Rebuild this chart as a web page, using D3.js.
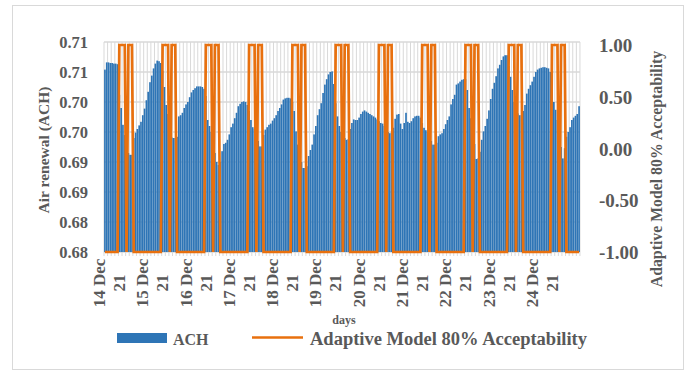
<!DOCTYPE html>
<html>
<head>
<meta charset="utf-8">
<script src="https://cdn.jsdelivr.net/npm/d3@7"></script>
<style>
  body { margin: 0; background: #fff; }
  text { font-family: "Liberation Serif", "Times New Roman", serif; font-weight: bold; fill: #595959; }
</style>
</head>
<body>
<script>
// days shown on the axis, the second label line is the year
var days = ["14 Dec", "15 Dec", "16 Dec", "17 Dec", "18 Dec", "19 Dec", "20 Dec", "21 Dec", "22 Dec", "23 Dec", "24 Dec"];
var yearLabel = "21";
var hoursPerDay = 24;

// hourly air renewal (ACH), one row per day
var ach = [
  0.7104, 0.7116, 0.7116, 0.7115, 0.7115, 0.7114, 0.7114, 0.7113, 0.7062, 0.7040, 0.7012, 0.6995, 0.6978, 0.6965, 0.6962, 0.6962, 0.6990, 0.6999, 0.7005, 0.7011, 0.7017, 0.7028, 0.7039, 0.7053,
  0.7067, 0.7083, 0.7094, 0.7106, 0.7114, 0.7119, 0.7118, 0.7115, 0.7102, 0.7075, 0.7045, 0.7030, 0.7010, 0.6991, 0.6990, 0.6990, 0.6992, 0.7026, 0.7028, 0.7032, 0.7040, 0.7046, 0.7050, 0.7058,
  0.7066, 0.7070, 0.7073, 0.7076, 0.7076, 0.7076, 0.7075, 0.7072, 0.7060, 0.7020, 0.7010, 0.7000, 0.6980, 0.6965, 0.6950, 0.6945, 0.6950, 0.6968, 0.6980, 0.6982, 0.6987, 0.6996, 0.7008, 0.7014,
  0.7023, 0.7032, 0.7043, 0.7047, 0.7050, 0.7051, 0.7050, 0.7045, 0.7035, 0.7020, 0.7008, 0.7005, 0.6995, 0.6985, 0.6976, 0.6976, 0.6995, 0.7004, 0.7008, 0.7012, 0.7014, 0.7019, 0.7023, 0.7028,
  0.7035, 0.7040, 0.7046, 0.7054, 0.7056, 0.7057, 0.7057, 0.7056, 0.7050, 0.7035, 0.7001, 0.6979, 0.6965, 0.6950, 0.6940, 0.6940, 0.6943, 0.6960, 0.6970, 0.6979, 0.6996, 0.7010, 0.7028, 0.7038,
  0.7048, 0.7065, 0.7079, 0.7088, 0.7096, 0.7100, 0.7101, 0.7080, 0.7048, 0.7026, 0.7010, 0.7000, 0.6995, 0.6990, 0.6987, 0.6988, 0.7005, 0.7015, 0.7021, 0.7020, 0.7020, 0.7024, 0.7030, 0.7034,
  0.7036, 0.7034, 0.7032, 0.7030, 0.7028, 0.7026, 0.7024, 0.7021, 0.7018, 0.7015, 0.7014, 0.7010, 0.7005, 0.7000, 0.6998, 0.6999, 0.7007, 0.7022, 0.7029, 0.7030, 0.7014, 0.7005, 0.7015, 0.7032,
  0.7017, 0.7015, 0.7018, 0.7023, 0.7026, 0.7027, 0.7027, 0.7024, 0.7015, 0.7007, 0.7003, 0.7000, 0.6990, 0.6985, 0.6979, 0.6979, 0.6982, 0.6993, 0.6996, 0.6998, 0.7005, 0.7013, 0.7020, 0.7026,
  0.7046, 0.7055, 0.7062, 0.7079, 0.7081, 0.7084, 0.7087, 0.7088, 0.7088, 0.7070, 0.7040, 0.7023, 0.7001, 0.6980, 0.6955, 0.6956, 0.6967, 0.6987, 0.7001, 0.7010, 0.7022, 0.7036, 0.7055, 0.7072,
  0.7082, 0.7093, 0.7106, 0.7112, 0.7120, 0.7126, 0.7128, 0.7128, 0.7110, 0.7092, 0.7070, 0.7050, 0.7031, 0.7031, 0.7028, 0.7028, 0.7035, 0.7045, 0.7064, 0.7072, 0.7078, 0.7084, 0.7092, 0.7100,
  0.7104, 0.7106, 0.7107, 0.7108, 0.7108, 0.7107, 0.7106, 0.7100, 0.7080, 0.7050, 0.7037, 0.7020, 0.7000, 0.6975, 0.6956, 0.6973, 0.6992, 0.7000, 0.7008, 0.7020, 0.7024, 0.7027, 0.7030, 0.7043
];

// adaptive model 80% acceptability (1 = acceptable, -1 = not), hourly
var adaptive = [
  -1,-1,-1,-1,-1,-1,-1,-1, 1, 1, 1, 1,-1, 1, 1, 1,-1,-1,-1,-1,-1,-1,-1,-1,
  -1,-1,-1,-1,-1,-1,-1,-1, 1, 1, 1, 1,-1, 1, 1, 1,-1,-1,-1,-1,-1,-1,-1,-1,
  -1,-1,-1,-1,-1,-1,-1,-1, 1, 1, 1, 1,-1, 1, 1, 1,-1,-1,-1,-1,-1,-1,-1,-1,
  -1,-1,-1,-1,-1,-1,-1,-1, 1, 1, 1, 1,-1, 1, 1, 1,-1,-1,-1,-1,-1,-1,-1,-1,
  -1,-1,-1,-1,-1,-1,-1,-1, 1, 1, 1, 1,-1, 1, 1, 1,-1,-1,-1,-1,-1,-1,-1,-1,
  -1,-1,-1,-1,-1,-1,-1,-1, 1, 1, 1, 1,-1, 1, 1, 1,-1,-1,-1,-1,-1,-1,-1,-1,
  -1,-1,-1,-1,-1,-1,-1,-1, 1, 1, 1, 1,-1, 1, 1, 1,-1,-1,-1,-1,-1,-1,-1,-1,
  -1,-1,-1,-1,-1,-1,-1,-1, 1, 1, 1, 1,-1, 1, 1, 1,-1,-1,-1,-1,-1,-1,-1,-1,
  -1,-1,-1,-1,-1,-1,-1,-1, 1, 1, 1, 1,-1, 1, 1, 1,-1,-1,-1,-1,-1,-1,-1,-1,
  -1,-1,-1,-1,-1,-1,-1,-1, 1, 1, 1, 1,-1, 1, 1, 1,-1,-1,-1,-1,-1,-1,-1,-1,
  -1,-1,-1,-1,-1,-1,-1,-1, 1, 1, 1, 1,-1, 1, 1, 1,-1,-1,-1,-1,-1,-1,-1,-1
];

// axis ticks (labels as printed in the chart)
var leftTicks = [0.680, 0.685, 0.690, 0.695, 0.700, 0.705, 0.710, 0.715];
var leftTickLabels = ["0.68", "0.68", "0.69", "0.69", "0.70", "0.70", "0.71", "0.71"];
var rightTicks = [-1, -0.5, 0, 0.5, 1];

var width = 688, height = 373;
var plot = { l: 104, r: 580, t: 42, b: 252 };
var blue = "#2e75b6", orange = "#e8700e", grid = "#d9d9d9";

var idx = d3.range(ach.length);

var x = d3.scaleBand().domain(idx).range([plot.l, plot.r]).paddingInner(0.08).paddingOuter(0.05);
var yL = d3.scaleLinear().domain([0.680, 0.715]).range([plot.b, plot.t]);
var yR = d3.scaleLinear().domain([-1, 1]).range([plot.b, plot.t + 3]);

var svg = d3.select("body").append("svg").attr("width", width).attr("height", height);

// rand runt diagrammet
svg.append("rect").attr("x", 12.5).attr("y", 5.5).attr("width", 671).attr("height", 364)
  .attr("fill", "#fff").attr("stroke", grid);

// vertikala stödlinjer, varannan timme
var step = x.step();
svg.append("g").selectAll("line")
  .data(idx.filter(function(i) { return i % 2 === 0; }).concat([ach.length]))
  .join("line")
  .attr("x1", function(i) { return plot.l + i * step; })
  .attr("x2", function(i) { return plot.l + i * step; })
  .attr("y1", plot.t).attr("y2", plot.b + 4)
  .attr("stroke", grid).attr("stroke-width", 1);

// horisontella stödlinjer
svg.append("g").selectAll("line")
  .data(leftTicks)
  .join("line")
  .attr("x1", plot.l).attr("x2", plot.r)
  .attr("y1", function(d) { return yL(d); }).attr("y2", function(d) { return yL(d); })
  .attr("stroke", grid).attr("stroke-width", 1.5);

// staplar
svg.append("g").selectAll("rect")
  .data(ach)
  .join("rect")
  .attr("x", function(d, i) { return x(i); })
  .attr("width", x.bandwidth())
  .attr("y", function(d) { return yL(d); })
  .attr("height", function(d) { return yL(0.680) - yL(d); })
  .attr("fill", blue);

// linjen
var line = d3.line()
  .x(function(d, i) { return x(i) + x.bandwidth() / 2; })
  .y(function(d) { return yR(d); });
svg.append("path").datum(adaptive)
  .attr("d", line)
  .attr("fill", "none").attr("stroke", orange).attr("stroke-width", 2.7)
  .attr("stroke-linejoin", "miter");

// vänster axel
var leftAxis = d3.axisLeft(yL).tickValues(leftTicks)
  .tickFormat(function(d, i) { return leftTickLabels[i]; })
  .tickSize(0).tickPadding(16);
var gl = svg.append("g").attr("transform", "translate(" + plot.l + ",0)").call(leftAxis);
gl.select(".domain").remove();
gl.selectAll("text").style("font-size", "16.5px").attr("dy", "0.35em");
gl.attr("font-family", null).attr("font-size", null);

// höger axel (vanligt bindestreck som minus)
var fmt = d3.format(".2f");
var rightAxis = d3.axisRight(yR).tickValues(rightTicks)
  .tickFormat(function(d) { return fmt(d).replace("\u2212", "-"); })
  .tickSize(0).tickPadding(19);
var gr = svg.append("g").attr("transform", "translate(" + plot.r + ",0)").call(rightAxis);
gr.select(".domain").remove();
gr.selectAll("text").style("font-size", "19px").attr("dy", "0.35em");
gr.attr("font-family", null).attr("font-size", null);

// datumetiketter, roterade
var dayG = svg.append("g").selectAll("g")
  .data(days)
  .join("g")
  .attr("transform", function(d, i) {
    return "translate(" + (x(i * hoursPerDay) + 1) + ",283) rotate(-90)";
  });
dayG.append("text").attr("text-anchor", "middle").attr("y", 0)
  .style("font-size", "17px").text(function(d) { return d; });
dayG.append("text").attr("text-anchor", "middle").attr("y", 20)
  .style("font-size", "17px").text(yearLabel);

// axeltitlar
svg.append("text").attr("transform", "translate(49,150) rotate(-90)")
  .attr("text-anchor", "middle").style("font-size", "15.5px").text("Air renewal (ACH)");
svg.append("text").attr("transform", "translate(662,169) rotate(-90)")
  .attr("text-anchor", "middle").style("font-size", "15.8px").text("Adaptive Model 80% Acceptability");
svg.append("text").attr("x", 344).attr("y", 324)
  .attr("text-anchor", "middle").style("font-size", "12px").text("days");

// förklaring
svg.append("rect").attr("x", 117).attr("y", 333).attr("width", 50).attr("height", 10).attr("fill", blue);
svg.append("text").attr("x", 173).attr("y", 345).style("font-size", "16px").text("ACH");
svg.append("line").attr("x1", 252).attr("x2", 303).attr("y1", 337.5).attr("y2", 337.5)
  .attr("stroke", orange).attr("stroke-width", 2.7);
svg.append("text").attr("x", 310).attr("y", 345).style("font-size", "18.5px")
  .text("Adaptive Model 80% Acceptability");
</script>
</body>
</html>
